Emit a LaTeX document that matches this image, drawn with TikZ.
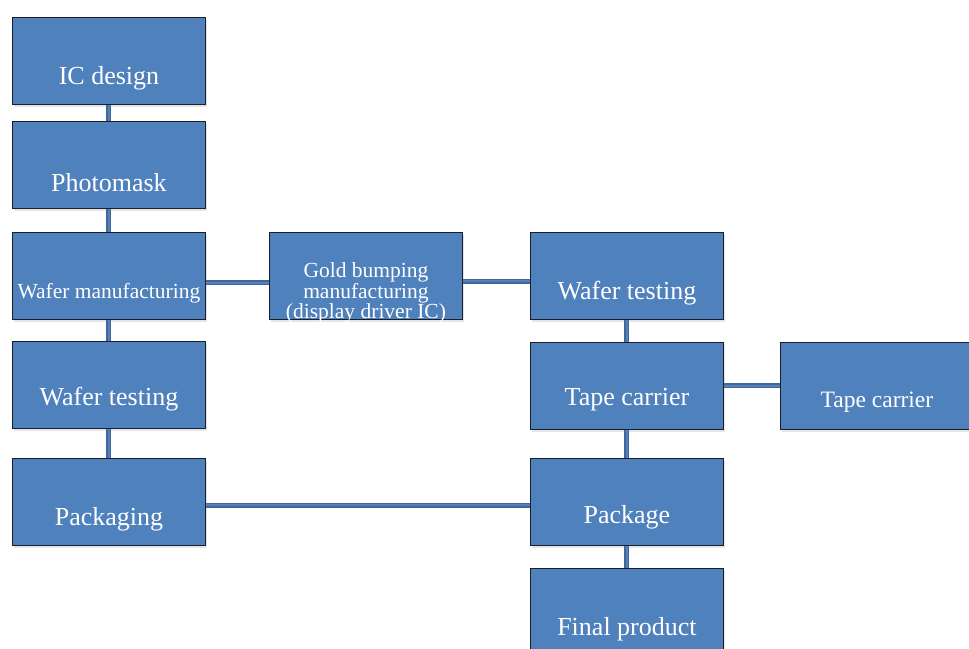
\documentclass[tikz,border=0pt]{standalone}
\usepackage{fontspec}
\setmainfont{Liberation Serif}
\usetikzlibrary{calc,shadows,backgrounds}
\definecolor{boxfill}{RGB}{79,129,189}
\definecolor{boxline}{RGB}{25,30,45}
\definecolor{linkdark}{RGB}{62,104,156}
\definecolor{linklight}{RGB}{88,128,182}
\begin{document}
\begin{tikzpicture}[x=1pt,y=-1pt,
  stage/.style={draw=boxline, line width=0.9pt, fill=boxfill,
    minimum width=193pt, minimum height=87pt, anchor=north west, inner sep=0pt,
    drop shadow={opacity=0.2, shadow xshift=1.5pt, shadow yshift=-3pt}},
  caption/.style={text=white, inner sep=0pt, font=\fontsize{26}{28}\selectfont},
  smallcaption/.style={text=white, inner sep=0pt, align=center, font=\fontsize{21.5}{19}\selectfont},
  link/.style={draw=linkdark, line width=5pt,
    postaction={draw=linklight, line width=2pt}}
]
\clip (0,0) rectangle (969,648);
\useasboundingbox (0,0) rectangle (969,648);

% left column
\node[stage, label={[caption, yshift=-17pt]center:IC design}] (icd) at (12,17) {};
\node[stage, label={[caption, yshift=-17.5pt]center:Photomask}] (pmk) at (12,121) {};
\node[stage, label={[smallcaption, yshift=-17pt]center:Wafer manufacturing}] (wmf) at (12,232) {};
\node[stage, label={[caption, yshift=-14pt]center:Wafer testing}] (wtl) at (12,341) {};
\node[stage, label={[caption, yshift=-17pt]center:Packaging}] (pkg) at (12,458) {};

% middle box
\node[stage, label={[smallcaption, yshift=-17pt]center:Gold bumping\\manufacturing\\(display driver IC)}] (gbm) at (269,232) {};

% right columns
\node[stage, label={[caption, yshift=-17pt]center:Wafer testing}] (wtr) at (530,232) {};
\node[stage, label={[caption, yshift=-14pt]center:Tape carrier}] (tcm) at (530,342) {};
\node[stage, label={[text=white, inner sep=0pt, font=\fontsize{23.5}{26}\selectfont, yshift=-16.5pt]center:Tape carrier}] (tcr) at (780,342) {};
\node[stage, label={[caption, yshift=-15pt]center:Package}] (pkr) at (530,458) {};
\node[stage, label={[caption, yshift=-17pt]center:Final product}] (fpr) at (530,568) {};

% connectors, kept behind the boxes
\begin{pgfonlayer}{background}
\fill[white] (0,0) rectangle (969,648);
\path[link] (icd.south) -- (pmk.north);
\path[link] (pmk.south) -- (wmf.north);
\path[link] (wmf.south) -- (wtl.north);
\path[link] (wtl.south) -- (pkg.north);
\path[link] ($(wmf.east)+(0,7)$) -- ($(gbm.west)+(0,7)$);
\path[link] ($(gbm.east)+(0,5.5)$) -- ($(wtr.west)+(0,5.5)$);
\path[link] (wtr.south) -- (tcm.north);
\path[link] (tcm.east) -- (tcr.west);
\path[link] (tcm.south) -- (pkr.north);
\path[link] (pkr.south) -- (fpr.north);
\path[link] ($(pkg.east)+(0,3.5)$) -- ($(pkr.west)+(0,3.5)$);
\end{pgfonlayer}
\end{tikzpicture}
\end{document}
